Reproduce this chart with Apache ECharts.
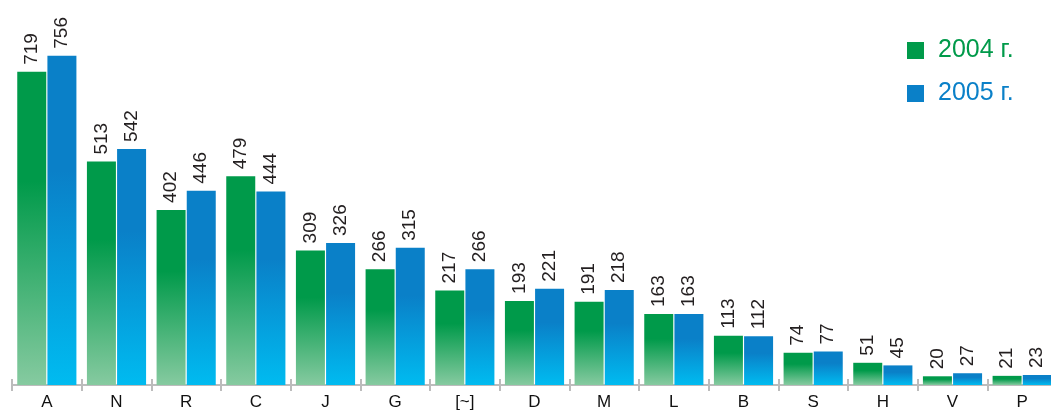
<!DOCTYPE html>
<html>
<head>
<meta charset="utf-8">
<script src="https://cdn.jsdelivr.net/npm/echarts@6/dist/echarts.min.js"></script>
<style>
  html, body { margin: 0; padding: 0; background: #fff; overflow: hidden; }
  #chart { width: 1058px; height: 411px; }
</style>
</head>
<body>
<div id="chart"></div>
<script>
const categories = ['A', 'N', 'R', 'C', 'J', 'G', '[~]', 'D', 'M', 'L', 'B', 'S', 'H', 'V', 'P'];
const values2004 = [719, 513, 402, 479, 309, 266, 217, 193, 191, 163, 113, 74, 51, 20, 21];
const values2005 = [756, 542, 446, 444, 326, 315, 266, 221, 218, 163, 112, 77, 45, 27, 23];
const seriesNames = ['2004 г.', '2005 г.'];

const font = 'Liberation Sans, Arial, sans-serif';

function grad(top, bottom) {
  return new echarts.graphic.LinearGradient(0, 0, 0, 1, [
    { offset: 0, color: top },
    { offset: 0.35, color: top },
    { offset: 1, color: bottom }
  ]);
}

// the chart runs a little past the right edge of the window, like the original
let myChart = echarts.init(document.getElementById('chart'));

const barLabel = {
  show: true,
  position: 'top',
  rotate: 90,
  align: 'left',
  verticalAlign: 'middle',
  distance: 7,
  color: '#231f20',
  fontSize: 19,
  fontFamily: font
};

const tickStyle = { color: '#bcbcbc', width: 2 };

let option = {
  animation: false,
  grid: { left: 12, top: 20, right: 1, bottom: 25 },
  legend: {
    orient: 'vertical',
    left: 907,
    top: 38,
    padding: 0,
    itemWidth: 17,
    itemHeight: 17,
    itemGap: 18,
    icon: 'rect',
    textStyle: { fontSize: 25, fontFamily: font, padding: [0, 0, 0, 9] },
    data: [
      { name: seriesNames[0], itemStyle: { color: '#009a4a' }, textStyle: { color: '#009a4a' } },
      { name: seriesNames[1], itemStyle: { color: '#0a80c8' }, textStyle: { color: '#0a80c8' } }
    ]
  },
  xAxis: [
    {
      type: 'category',
      data: categories,
      axisLine: { show: true, lineStyle: { color: '#bcbcbc', width: 2 } },
      axisTick: { show: true, length: 6, lineStyle: tickStyle },
      axisLabel: { color: '#111', fontSize: 17, fontFamily: font, margin: 9 }
    },
    {
      type: 'category',
      data: categories,
      position: 'bottom',
      axisLine: { show: false },
      axisTick: { show: true, inside: true, length: 6, lineStyle: tickStyle },
      axisLabel: { show: false }
    }
  ],
  yAxis: {
    type: 'value',
    min: 0,
    max: 838,
    show: false,
    splitLine: { show: false }
  },
  series: [
    {
      name: seriesNames[0],
      type: 'bar',
      data: values2004,
      barWidth: 29,
      barGap: '4%',
      itemStyle: { color: grad('#009a4a', '#86caa0') },
      label: barLabel
    },
    {
      name: seriesNames[1],
      type: 'bar',
      data: values2005,
      barWidth: 29,
      barGap: '4%',
      itemStyle: { color: grad('#0a80c8', '#00bbf0') },
      label: barLabel
    }
  ]
};

myChart.setOption(option);
</script>
</body>
</html>
